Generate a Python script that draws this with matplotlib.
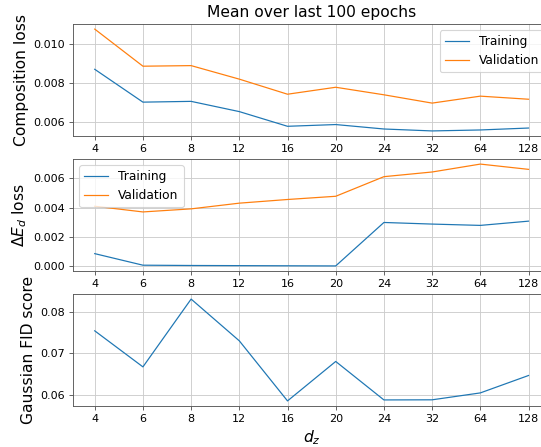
import numpy as np
import matplotlib
matplotlib.use("Agg")
import matplotlib.pyplot as plt
from matplotlib.ticker import FormatStrFormatter

# latent sizes d_z
dz = [4, 6, 8, 12, 16, 20, 24, 32, 64, 128]

# composition loss (mean over last 100 epochs)
comp_train = [0.00871, 0.00701, 0.00705, 0.00652, 0.00576, 0.00585, 0.00562, 0.00552, 0.00557, 0.00567]
comp_val = [0.01079, 0.00887, 0.00890, 0.00820, 0.00742, 0.00778, 0.00739, 0.00696, 0.00732, 0.00716]

# delta E_d loss
de_train = [0.00086, 0.00007, 0.00005, 0.00004, 0.00003, 0.00002, 0.00299, 0.00288, 0.00279, 0.00308]
de_val = [0.00410, 0.00371, 0.00392, 0.00431, 0.00456, 0.00478, 0.00612, 0.00644, 0.00698, 0.00662]

# Gaussian FID score
fid = [0.07551, 0.06673, 0.08324, 0.07307, 0.05844, 0.06805, 0.05868, 0.05871, 0.06039, 0.06463]

DPI = 80
LW = 1.1
fig = plt.figure(figsize=(541 / DPI, 447 / DPI), dpi=DPI)
left, width = 0.135, 0.882
ax1 = fig.add_axes([left, 0.6957, width, 0.2506])
ax2 = fig.add_axes([left, 0.3937, width, 0.2506])
ax3 = fig.add_axes([left, 0.0917, width, 0.2506])

x = np.arange(len(dz))

ax1.plot(x, comp_train, color="#1f77b4", lw=LW, label="Training")
ax1.plot(x, comp_val, color="#ff7f0e", lw=LW, label="Validation")
ax1.set_ylabel("Composition loss", fontsize=14)
ax1.set_title("Mean over last 100 epochs", fontsize=14)
ax1.legend(loc="upper right", fontsize=11)
ax1.set_yticks([0.006, 0.008, 0.010])

ax2.plot(x, de_train, color="#1f77b4", lw=LW, label="Training")
ax2.plot(x, de_val, color="#ff7f0e", lw=LW, label="Validation")
ax2.set_ylabel(r"$\Delta E_d$ loss", fontsize=14)
ax2.legend(loc="upper left", fontsize=11)
ax2.set_yticks([0.000, 0.002, 0.004, 0.006])

ax3.plot(x, fid, color="#1f77b4", lw=LW)
ax3.set_ylabel("Gaussian FID score", fontsize=14)
ax3.set_xlabel(r"$d_z$", fontsize=14)
ax3.set_yticks([0.06, 0.07, 0.08])

for ax in (ax1, ax2, ax3):
    ax.set_xticks(x)
    ax.set_xticklabels([str(d) for d in dz])
    ax.tick_params(labelsize=10, color="#555555")
    ax.grid(True, color="#cccccc")
    ax.set_axisbelow(True)
    for sp in ax.spines.values():
        sp.set_color("#555555")

ax1.yaxis.set_major_formatter(FormatStrFormatter("%.3f"))
ax2.yaxis.set_major_formatter(FormatStrFormatter("%.3f"))
ax3.yaxis.set_major_formatter(FormatStrFormatter("%.2f"))

fig.savefig("out.png", dpi=DPI)
